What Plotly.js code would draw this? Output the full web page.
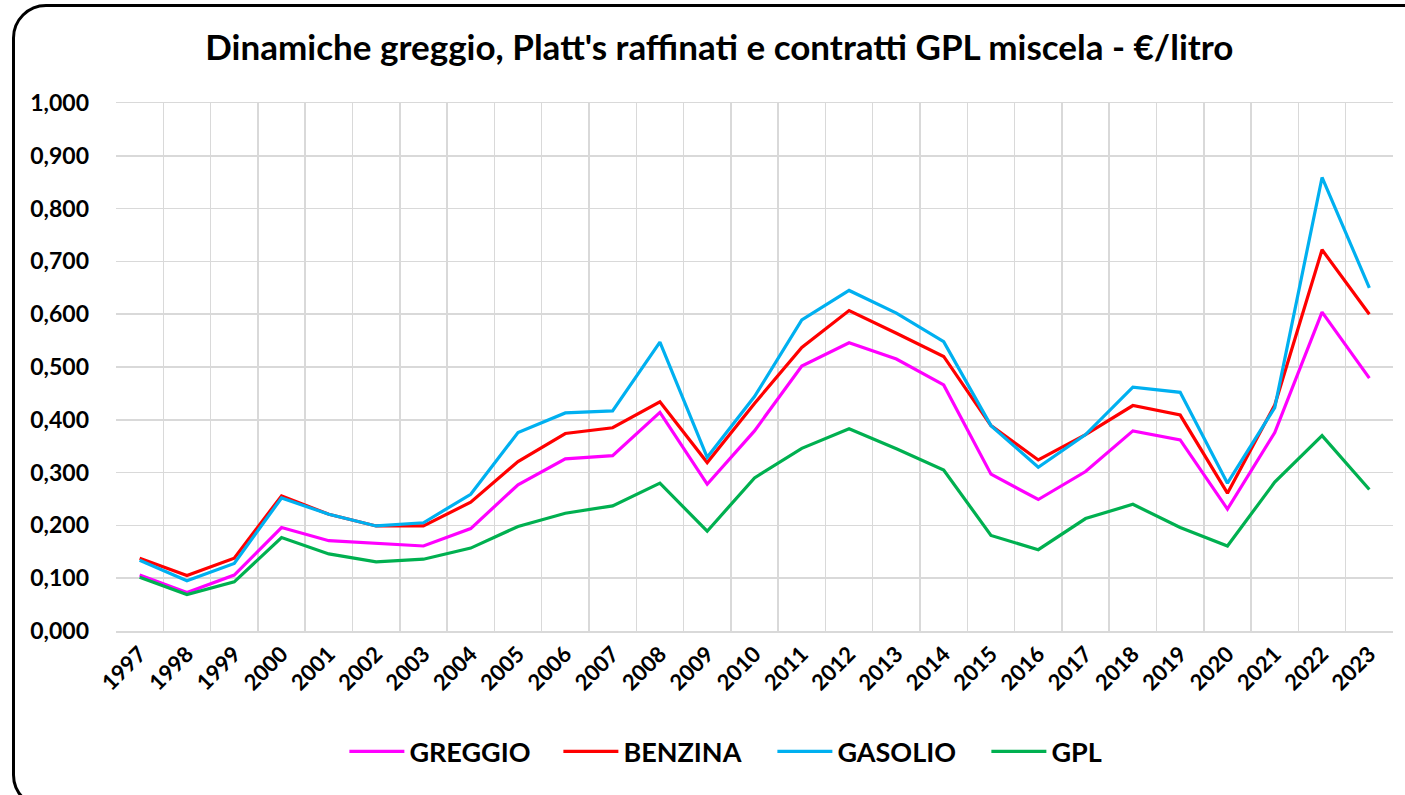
<!DOCTYPE html>
<html>
<head>
<meta charset="utf-8">
<script src="https://cdn.plot.ly/plotly-3.0.1.min.js"></script>
<style>
  html, body { margin:0; padding:0; width:1405px; height:795px; overflow:hidden; background:#fff; }
  #chart { position:absolute; left:0; top:0; width:1405px; height:795px; }
  #frame { position:absolute; left:12px; top:4px; width:1430px; height:805px; box-sizing:border-box;
           border:3.5px solid #000; border-radius:34px; pointer-events:none; }
</style>
</head>
<body>
<div id="chart"></div>
<div id="frame"></div>
<script>
const years = ['1997','1998','1999','2000','2001','2002','2003','2004','2005','2006','2007','2008','2009',
  '2010','2011','2012','2013','2014','2015','2016','2017','2018','2019','2020','2021','2022','2023'];
const greggio = [0.106,0.073,0.106,0.196,0.171,0.166,0.161,0.194,0.277,0.326,0.332,0.414,0.278,
  0.379,0.502,0.546,0.515,0.466,0.297,0.249,0.302,0.379,0.362,0.231,0.376,0.604,0.479];
const benzina = [0.138,0.105,0.138,0.256,0.221,0.199,0.199,0.244,0.321,0.374,0.385,0.434,0.319,
  0.431,0.537,0.607,0.564,0.520,0.389,0.324,0.372,0.427,0.409,0.261,0.428,0.722,0.600];
const gasolio = [0.134,0.095,0.128,0.252,0.221,0.199,0.205,0.259,0.376,0.413,0.417,0.547,0.329,
  0.444,0.589,0.645,0.602,0.548,0.389,0.310,0.372,0.462,0.452,0.280,0.423,0.859,0.650];
const gpl = [0.102,0.069,0.093,0.177,0.146,0.131,0.136,0.157,0.198,0.223,0.237,0.280,0.189,
  0.290,0.346,0.383,0.345,0.305,0.181,0.154,0.213,0.240,0.196,0.161,0.282,0.370,0.268];

const seriesNames = ['GREGGIO','BENZINA','GASOLIO','GPL'];
const seriesColors = ['#ff00ff','#ff0000','#00b0f0','#00b050'];
const seriesData = [greggio, benzina, gasolio, gpl];

const FONT = 'Lato, "Open Sans", sans-serif';

const traces = seriesData.map((d, i) => ({
  type: 'scatter', mode: 'lines', x: years, y: d, name: seriesNames[i],
  line: { color: seriesColors[i], width: 3.2 }
}));

const layout = {
  width: 1405, height: 795,
  margin: { l: 116, r: 12, t: 103, b: 164 },
  paper_bgcolor: '#fff', plot_bgcolor: '#fff',
  separators: ',.',
  font: { family: FONT, color: '#000' },
  title: { text: "<b>Dinamiche greggio, Platt's raffinati e contratti GPL miscela - €/litro</b>",
           font: { family: FONT, size: 35, color: '#000' }, x: 0.512, xanchor: 'center', y: 0.94, yanchor: 'middle' },
  xaxis: {
    type: 'category', range: [-0.5, 26.5], tickson: 'boundaries', ticks: '',
    showgrid: true, gridcolor: '#d9d9d9', gridwidth: 1.5,
    showline: true, linecolor: '#d9d9d9', linewidth: 1.5, mirror: true,
    tickangle: -45, tickfont: { family: FONT, size: 22, color: '#000', weight: 'bold' },
    fixedrange: true
  },
  yaxis: {
    range: [0, 1], dtick: 0.1, tick0: 0, tickformat: '.3f',
    showgrid: true, gridcolor: '#d9d9d9', gridwidth: 1.5, zeroline: false,
    showline: false, ticks: '', ticklabelstandoff: 26,
    tickfont: { family: FONT, size: 23, color: '#000', weight: 'bold' },
    fixedrange: true
  },
  showlegend: true,
  legend: {
    orientation: 'h', x: 0.514, xanchor: 'center', y: -0.229, yanchor: 'middle',
    font: { family: FONT, size: 27, color: '#000', weight: 'bold' },
    itemwidth: 55, entrywidth: 144, entrywidthmode: 'pixels',
    tracegroupgap: 0, bgcolor: 'rgba(0,0,0,0)'
  }
};

Plotly.newPlot('chart', traces, layout, { displayModeBar: false, staticPlot: true });
</script>
</body>
</html>
